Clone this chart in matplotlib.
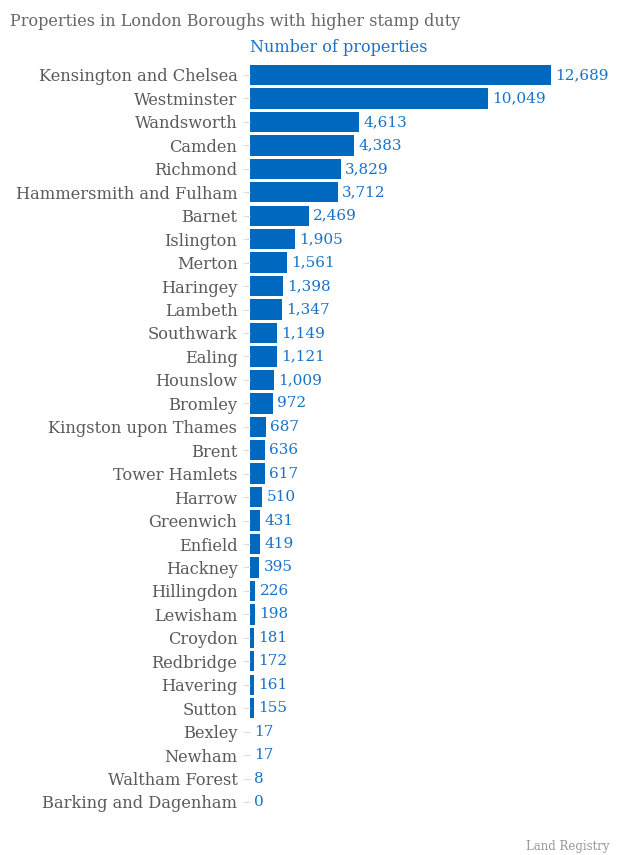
import matplotlib
matplotlib.use("Agg")
import matplotlib.pyplot as plt

boroughs = ["Kensington and Chelsea", "Westminster", "Wandsworth", "Camden", "Richmond",
            "Hammersmith and Fulham", "Barnet", "Islington", "Merton", "Haringey",
            "Lambeth", "Southwark", "Ealing", "Hounslow", "Bromley",
            "Kingston upon Thames", "Brent", "Tower Hamlets", "Harrow", "Greenwich",
            "Enfield", "Hackney", "Hillingdon", "Lewisham", "Croydon",
            "Redbridge", "Havering", "Sutton", "Bexley", "Newham",
            "Waltham Forest", "Barking and Dagenham"]
properties = [12689, 10049, 4613, 4383, 3829, 3712, 2469, 1905, 1561, 1398,
              1347, 1149, 1121, 1009, 972, 687, 636, 617, 510, 431,
              419, 395, 226, 198, 181, 172, 161, 155, 17, 17, 8, 0]

bar_color = "#0168c0"
label_color = "#1a72c8"
text_gray = "#5a5a5a"
font = "DejaVu Serif"

fig = plt.figure(figsize=(6.2, 8.55), dpi=100)
ax = fig.add_axes([250 / 620, 0.0483, 301 / 620, 0.8777])

ypos = list(range(len(boroughs)))
ax.barh(ypos, properties, height=0.87, color=bar_color)
ax.set_xlim(0, max(properties))
ax.set_ylim(len(boroughs) - 0.5, -0.5)

ax.set_yticks(ypos)
ax.set_yticklabels(boroughs, fontsize=11.7, color=text_gray, family=font)
ax.tick_params(axis="y", length=5, width=0.8, color="#dddddd", pad=4)
ax.set_xticks([])
for s in ax.spines.values():
    s.set_visible(False)

for y, v in zip(ypos, properties):
    ax.annotate(f"{v:,}", (v, y), xytext=(3, 0), textcoords="offset points",
                va="center", ha="left", fontsize=11, color=label_color,
                family=font, annotation_clip=False)

fig.text(10 / 620, 1 - 22 / 855, "Properties in London Boroughs with higher stamp duty",
         fontsize=11.5, color="#666666", family=font, va="center", ha="left")
fig.text(250 / 620, 1 - 48 / 855, "Number of properties", fontsize=11.5,
         color=label_color, family=font, va="center", ha="left")
fig.text(609 / 620, 1 - 846 / 855, "Land Registry", fontsize=8.5,
         color="#999999", family=font, va="center", ha="right")

fig.savefig("out.png", dpi=100)
